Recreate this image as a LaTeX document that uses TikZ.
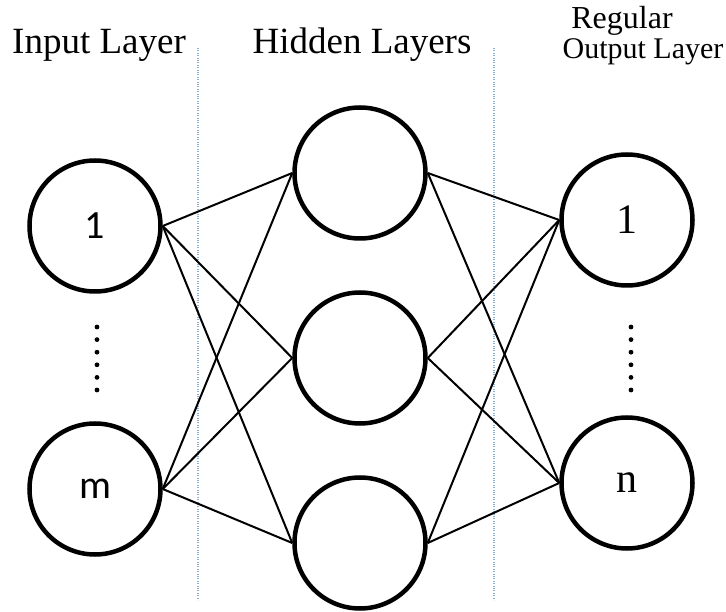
\documentclass[tikz,border=0pt]{standalone}
\usepackage{fontspec}
\setmainfont{Liberation Serif}
\newfontfamily\inputfont{Carlito}
\definecolor{sepblue}{RGB}{135,175,215}

\begin{document}
\begin{tikzpicture}[%
        x=1pt, y=-1pt,
        neuron/.style={circle, draw=black, line width=4.5pt, minimum size=131pt, inner sep=0pt},
        edge/.style={line width=2pt},
        divider/.style={draw=sepblue, line width=1.4pt, dash pattern=on 1pt off 1.4pt},
        layername/.style={anchor=base, inner sep=0pt, font=\fontsize{37}{40}\selectfont},
        outname/.style={anchor=base, inner sep=0pt, font=\fontsize{30}{32}\selectfont}
        ]
    \useasboundingbox (0,0) rectangle (726,612);
    \node[layername] (inlabel) at (99,54) {Input Layer};
    \node[layername] (hidlabel) at (362,54) {Hidden Layers};
    \node[outname, font=\fontsize{32}{34}\selectfont] (outlabelA) at (622,29) {Regular};
    \node[outname] (outlabelB) at (643,59) {Output Layer};
    \coordinate (divAtop) at (198,48);
    \coordinate (divAbot) at (198,600);
    \coordinate (divBtop) at (494,48);
    \coordinate (divBbot) at (494,600);
    \draw[divider] (divAtop) -- (divAbot);
    \draw[divider] (divBtop) -- (divBbot);
    \node[neuron, font=\inputfont\fontsize{40}{42}\selectfont] (i1) at (95,226) {1};
    \node[neuron, font=\inputfont\fontsize{40}{42}\selectfont] (im) at (95,489) {m};
    \node[neuron] (h1) at (360,173) {};
    \node[neuron] (h2) at (360,358) {};
    \node[neuron] (h3) at (360,543) {};
    \node[neuron, font=\fontsize{42}{44}\selectfont] (o1) at (627,220) {1};
    \node[neuron, font=\fontsize{42}{44}\selectfont] (on) at (627,483) {n};
    \foreach \a in {i1,im}
        \foreach \b in {h1,h2,h3}
            \draw[edge] (\a.east) -- (\b.west);
    \foreach \a in {h1,h2,h3}
        \foreach \b in {o1,on}
            \draw[edge] (\a.east) -- (\b.west);
    \foreach \k in {0,...,5}
        \fill (97,{327+\k*12.6}) circle (2.4pt);
    \foreach \k in {0,...,5}
        \fill (631,{327+\k*12.6}) circle (2.4pt);
\end{tikzpicture}
\end{document}
